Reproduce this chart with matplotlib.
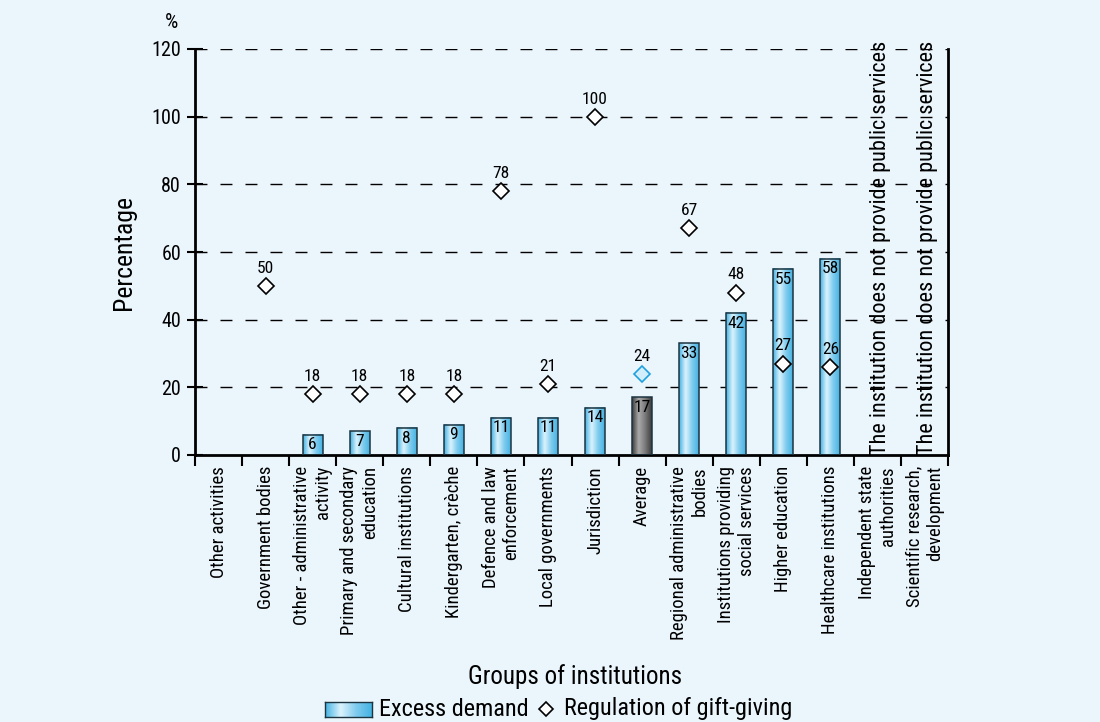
import numpy as np
import matplotlib.pyplot as plt
from matplotlib import font_manager
from matplotlib.colors import LinearSegmentedColormap
from matplotlib.lines import Line2D
from matplotlib.patches import Rectangle

categories = [
    "Other activities", "Government bodies", "Other - administrative\nactivity",
    "Primary and secondary\neducation", "Cultural institutions", "Kindergarten, crèche",
    "Defence and law\nenforcement", "Local governments", "Jurisdiction", "Average",
    "Regional administrative\nbodies", "Institutions providing\nsocial services",
    "Higher education", "Healthcare institutions", "Independent state\nauthorities",
    "Scientific research,\ndevelopment",
]
excess_demand = [None, None, 6, 7, 8, 9, 11, 11, 14, 17, 33, 42, 55, 58, None, None]
gift_regulation = [None, 50, 18, 18, 18, 18, 78, 21, 100, 24, 67, 48, 27, 26, None, None]
no_service = [14, 15]
avg_idx = 9

names = {f.name for f in font_manager.fontManager.ttflist}
font = next((f for f in ["Roboto Condensed", "Liberation Sans Narrow", "Roboto"] if f in names),
            "DejaVu Sans")
plt.rcParams["font.family"] = [font, "DejaVu Sans"]

bg = "#eaf5fc"
fig = plt.figure(figsize=(11, 7.22), dpi=100, facecolor=bg)
ax = fig.add_axes([195 / 1100, 1 - 455 / 722, 753 / 1100, 406 / 722], facecolor=bg)

blue = LinearSegmentedColormap.from_list("b", ["#45b3e3", "#dcf3fd", "#7fcbee", "#45b3e3"])
grey = LinearSegmentedColormap.from_list("g", ["#3c3c3c", "#ababab", "#7a7a7a", "#3c3c3c"])
grad = np.linspace(0, 1, 64).reshape(1, -1)

x = np.arange(len(categories))
w = 0.42
for i, v in enumerate(excess_demand):
    if v is None:
        continue
    cm = grey if i == avg_idx else blue
    ax.imshow(grad, cmap=cm, extent=(i - w / 2, i + w / 2, 0, v),
              aspect="auto", zorder=2, interpolation="bicubic")
    ax.add_patch(Rectangle((i - w / 2, 0), w, v, fill=False,
                           edgecolor="#1c3440", lw=1.1, zorder=3))
    ax.text(i, v - 0.8, str(v), ha="center", va="top", fontsize=12.5, zorder=4)

for i, v in enumerate(gift_regulation):
    if v is None:
        continue
    if i == avg_idx:
        fc, ec = "#d2eefb", "#1ea0e0"
    else:
        fc, ec = "white", "black"
    ax.plot(i, v, marker="D", ms=8, mfc=fc, mec=ec, mew=1.2, zorder=5)
    ax.text(i, v + 3.0, str(v), ha="center", va="bottom", fontsize=12.5, zorder=5)

for y in range(20, 121, 20):
    ax.axhline(y, color="black", lw=1.0, ls=(0, (8.6, 9.4)), zorder=1)

ax.set_xlim(-0.5, len(categories) - 0.5)
ax.set_ylim(0, 120)
ax.set_yticks(range(0, 121, 20))
ax.tick_params(axis="y", direction="inout", length=12, width=1.5, labelsize=14.5, pad=4)
ax.set_xticks(np.arange(-0.5, len(categories), 1))
ax.set_xticklabels([])
ax.tick_params(axis="x", direction="out", length=8, width=1.5)
ax.set_xticks(x, minor=True)
ax.set_xticklabels(categories, minor=True, rotation=90, va="top", ha="center",
                   multialignment="right", fontsize=13.5)
ax.tick_params(axis="x", which="minor", length=0, pad=8)

for s in ["left", "bottom", "right"]:
    ax.spines[s].set_linewidth(2)
ax.spines["top"].set_visible(False)

ax.set_ylabel("Percentage", fontsize=18.5, labelpad=11)
ax.text(-23 / 753, 1.066, "%", transform=ax.transAxes, fontsize=15, ha="center", va="center")
fig.text(575 / 1100, 1 - 677 / 722, "Groups of institutions", ha="center", va="center",
         fontsize=18)

# vertical note for categories without public services, sized to span 415 px
renderer = fig.canvas.get_renderer()
for i in no_service:
    t = ax.text(i + 0.07, 0, "The institution does not provide public services",
                rotation=90, ha="center", va="bottom", fontsize=15, zorder=1)
    h = t.get_window_extent(renderer).height
    t.set_fontsize(15 * 415 / h)

# legend built by hand: gradient swatch, text, diamond, text
lax = fig.add_axes([325 / 1100, 1 - 717 / 722, 47 / 1100, 15 / 722])
lax.imshow(grad, cmap=blue, aspect="auto", interpolation="bicubic")
lax.set_xticks([])
lax.set_yticks([])
for s in lax.spines.values():
    s.set_edgecolor("#1c3440")
    s.set_linewidth(1)
ly = 1 - 709 / 722
t1 = fig.text(379 / 1100, ly, "Excess demand", ha="left", va="center", fontsize=17.5)
x1 = t1.get_window_extent(renderer).x1
fig.add_artist(Line2D([(x1 + 17) / 1100], [ly], transform=fig.transFigure, ls="none",
                      marker="D", ms=7, mfc="white", mec="black", mew=1.2))
fig.text((x1 + 35) / 1100, ly, "Regulation of gift-giving", ha="left", va="center",
         fontsize=17.5)

fig.savefig("out.png", dpi=100, facecolor=bg)
